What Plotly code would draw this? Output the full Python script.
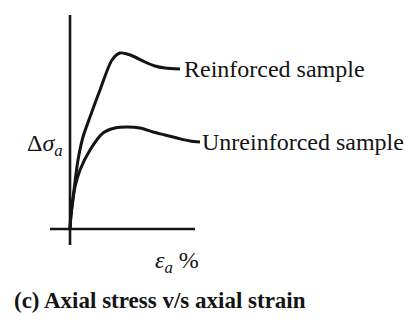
import plotly.graph_objects as go

# Data (axial strain %, axial stress change) - schematic units
strain_reinforced = [0.0, 0.1, 0.4, 0.8, 1.3, 2.0, 3.0, 4.2, 5.0, 5.7, 6.5, 7.5, 8.5, 9.5, 11.0]
stress_reinforced = [0.0, 1.4, 3.9, 6.9, 9.2, 11.2, 13.9, 16.9, 17.6, 17.5, 17.2, 16.7, 16.3, 16.1, 16.0]

strain_unreinforced = [0.0, 0.1, 0.2, 0.5, 1.0, 2.0, 3.3, 4.5, 5.7, 7.0, 8.3, 9.5, 10.7, 12.0, 13.0]
stress_unreinforced = [0.0, 1.4, 2.2, 4.2, 5.9, 7.9, 9.6, 10.1, 10.2, 10.1, 9.7, 9.4, 9.1, 8.8, 8.7]

axis_x_extent = [-2.0, 12.5]
axis_y_extent = [-1.6, 21.4]

series_labels = ["Reinforced sample", "Unreinforced sample"]
y_label = "Δ<i>σ</i><sub><i>a</i></sub>"
x_label = "<i>ε</i><sub><i>a</i></sub> %"
caption = "<b>(c) Axial stress v/s axial strain</b>"

INK = "#141414"
FONT = "Liberation Serif"

fig = go.Figure()

# axes drawn as lines
fig.add_trace(go.Scatter(x=axis_x_extent, y=[0, 0], mode="lines",
                         line=dict(color=INK, width=2.6), hoverinfo="skip"))
fig.add_trace(go.Scatter(x=[0, 0], y=axis_y_extent, mode="lines",
                         line=dict(color=INK, width=2.6), hoverinfo="skip"))

fig.add_trace(go.Scatter(x=strain_reinforced, y=stress_reinforced, mode="lines",
                         line=dict(color=INK, width=3, shape="spline", smoothing=0.8),
                         name=series_labels[0]))
fig.add_trace(go.Scatter(x=strain_unreinforced, y=stress_unreinforced, mode="lines",
                         line=dict(color=INK, width=3, shape="spline", smoothing=0.8),
                         name=series_labels[1]))

annotations = [
    dict(x=strain_reinforced[-1] + 0.15, y=stress_reinforced[-1], text=series_labels[0],
         xanchor="left", yanchor="middle", size=24),
    dict(x=strain_unreinforced[-1] + 0.0, y=stress_unreinforced[-1], text=series_labels[1],
         xanchor="left", yanchor="middle", size=24),
    dict(x=-2.5, y=8.4, text=y_label, xanchor="center", yanchor="middle", size=24),
    dict(x=10.7, y=-3.3, text=x_label, xanchor="center", yanchor="middle", size=24),
    dict(x=-5.8, y=-7.1, text=caption, xanchor="left", yanchor="middle", size=23),
]
for a in annotations:
    sz = a.pop("size")
    a.update(showarrow=False, xref="x", yref="y",
             font=dict(family=FONT, size=sz, color=INK))

fig.update_layout(
    width=412, height=324,
    margin=dict(l=0, r=0, t=0, b=0),
    paper_bgcolor="white", plot_bgcolor="white",
    showlegend=False,
    annotations=annotations,
    xaxis=dict(range=[-7.0, 34.2], visible=False, fixedrange=True),
    yaxis=dict(range=[-9.5, 22.9], visible=False, fixedrange=True),
)

fig.write_html("out.html",
               config={"displayModeBar": False, "staticPlot": True},
               post_script="document.body.style.margin='0px';document.body.style.overflow='hidden';")
